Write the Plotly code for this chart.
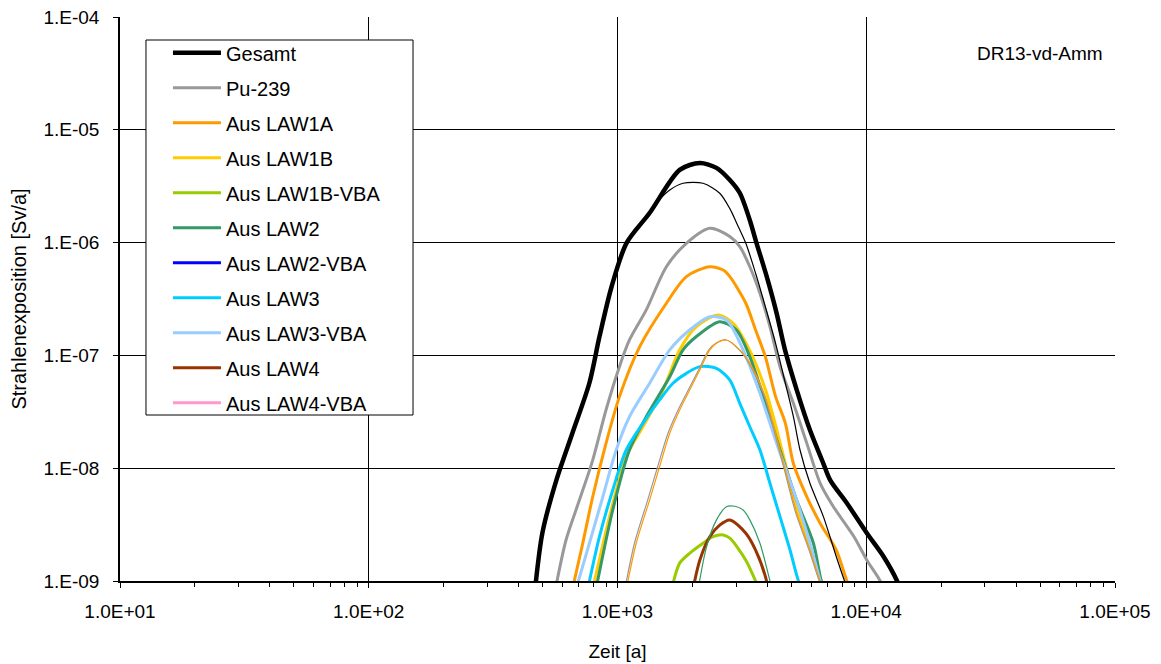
import plotly.graph_objects as go

# ---------------- data ----------------
x_tickvals = [1e1, 1e2, 1e3, 1e4, 1e5]
x_ticktext = ["1.0E+01", "1.0E+02", "1.0E+03", "1.0E+04", "1.0E+05"]
y_tickvals = [1e-9, 1e-8, 1e-7, 1e-6, 1e-5, 1e-4]
y_ticktext = ["1.E-09", "1.E-08", "1.E-07", "1.E-06", "1.E-05", "1.E-04"]
x_minor = [m * d for d in [1e1, 1e2, 1e3, 1e4] for m in range(2, 10)]

t_gesamt = [465, 499, 568, 659, 771, 846, 946, 1087, 1346, 1778, 2142, 2500, 2829, 3102, 3404,
            3624, 3981, 4363, 4713, 5256, 5938, 6725, 7161, 8363, 10060, 11750, 13300, 13800]
v_gesamt = [8e-10, 2.67e-9, 7.85e-9, 2.05e-8, 5.69e-8, 1.46e-7, 4.04e-7, 9.9e-7, 1.83e-6, 4.41e-6,
            5.08e-6, 4.6e-6, 3.59e-6, 2.75e-6, 1.58e-6, 9.86e-7, 4.99e-7, 2.36e-7, 1.12e-7,
            4.93e-8, 2.18e-8, 1.1e-8, 7.85e-9, 4.89e-9, 2.65e-9, 1.64e-9, 1.0e-9, 8e-10]

t_gesamt_thin = [465, 499, 568, 659, 771, 846, 946, 1087, 1227, 1432, 1622, 1834, 2207, 2576, 2829,
                 3030, 3280, 3590, 3930, 4320, 4730, 5095, 5417, 5938, 6725, 7580, 8180, 8500]
v_gesamt_thin = [8e-10, 2.67e-9, 7.85e-9, 2.05e-8, 5.69e-8, 1.46e-7, 4.04e-7, 9.9e-7, 1.38e-6,
                 2.23e-6, 2.92e-6, 3.36e-6, 3.36e-6, 2.74e-6, 2.0e-6, 1.45e-6, 9.86e-7, 5.35e-7,
                 2.7e-7, 1.28e-7, 5.66e-8, 2.86e-8, 1.45e-8, 7.35e-9, 3.72e-9, 1.64e-9, 1.0e-9, 8e-10]

t_pu239 = [560, 621, 703, 795, 899, 1018, 1117, 1305, 1572, 1892, 2349, 2829, 3102, 3404, 3738,
           4100, 4501, 5095, 5770, 6531, 7380, 8930, 10060, 11380, 11800]
v_pu239 = [8e-10, 2.31e-9, 5.22e-9, 1.18e-8, 3.28e-8, 7.95e-8, 1.37e-7, 2.53e-7, 6.11e-7, 9.86e-7,
           1.34e-6, 1.13e-6, 9.2e-7, 6.11e-7, 3.55e-7, 1.8e-7, 7.94e-8, 3.76e-8, 1.66e-8, 7.35e-9,
           4.56e-9, 2.47e-9, 1.53e-9, 1.0e-9, 8e-10]

t_law1a = [655, 725, 795, 899, 1018, 1227, 1572, 1892, 2349, 2660, 2829, 3280, 3590, 3930, 4320,
           4730, 5095, 5770, 6531, 7580, 8363, 8800]
v_law1a = [8e-10, 2.16e-9, 5.58e-9, 1.66e-8, 4.31e-8, 1.19e-7, 2.9e-7, 4.99e-7, 6.11e-7, 5.71e-7,
           4.99e-7, 2.9e-7, 1.68e-7, 9.73e-8, 4.31e-8, 2.5e-8, 1.1e-8, 5.58e-9, 3.24e-9, 1.88e-9,
           1.0e-9, 8e-10]

t_law1b = [790, 929, 1084, 1265, 1524, 1778, 2076, 2535, 2916, 3404, 3930, 4320, 4730, 5256, 5938,
           6600, 7000]
v_law1b = [8e-10, 3.72e-9, 1.27e-8, 2.33e-8, 4.93e-8, 1.12e-7, 1.8e-7, 2.28e-7, 1.92e-7, 1.1e-7,
           5.0e-8, 2.4e-8, 1.1e-8, 4.5e-9, 2.0e-9, 1.0e-9, 8e-10]

t_law1b_vba = [1640, 1778, 1950, 2207, 2421, 2660, 2829, 3280, 3590, 3750]
v_law1b_vba = [8e-10, 1.44e-9, 1.76e-9, 2.16e-9, 2.47e-9, 2.56e-9, 2.4e-9, 1.53e-9, 1.0e-9, 8e-10]

t_law2 = [815, 957, 1117, 1305, 1622, 1834, 2076, 2576, 3006, 3404, 3978, 4501, 5248, 6131, 6600,
          6900]
v_law2 = [8e-10, 4.26e-9, 1.45e-8, 2.86e-8, 6.47e-8, 1.12e-7, 1.47e-7, 1.99e-7, 1.68e-7, 9.73e-8,
          3.51e-8, 1.45e-8, 5.22e-9, 2.16e-9, 1.0e-9, 8e-10]

t_law2_vba = [2200, 2600, 3000, 3400]
v_law2_vba = [2e-10, 4e-10, 3e-10, 1.5e-10]

t_law3 = [755, 846, 957, 1084, 1265, 1476, 1671, 1892, 2142, 2500, 2829, 3102, 3404, 3738, 4100,
          4501, 4940, 5340, 5600]
v_law3 = [8e-10, 2.47e-9, 6.41e-9, 1.45e-8, 2.5e-8, 4.03e-8, 5.66e-8, 6.93e-8, 7.95e-8, 7.68e-8,
          6.05e-8, 3.76e-8, 2.33e-8, 1.45e-8, 7.35e-9, 3.72e-9, 1.88e-9, 1.0e-9, 8e-10]

t_law3_vba = [676, 771, 873, 988, 1117, 1346, 1622, 1950, 2349, 2743, 3199, 3738, 4363, 5248, 6000,
              6531, 6800]
v_law3_vba = [8e-10, 2.16e-9, 5.58e-9, 1.45e-8, 2.86e-8, 5.66e-8, 1.12e-7, 1.68e-7, 2.2e-7, 2.06e-7,
              1.12e-7, 4.61e-8, 1.66e-8, 5.2e-9, 2.0e-9, 1.0e-9, 8e-10]

t_law4 = [2000, 2142, 2349, 2576, 2829, 3280, 3590, 3930, 4050]
v_law4 = [8e-10, 1.53e-9, 2.47e-9, 3.13e-9, 3.48e-9, 2.65e-9, 1.88e-9, 1.1e-9, 8e-10]

t_law4_vba = [2300, 2700, 3100, 3500]
v_law4_vba = [1e-10, 2e-10, 1.8e-10, 1e-10]

# thin unlabelled series
t_orange_thin = [1080, 1189, 1346, 1476, 1622, 1778, 1950, 2142, 2349, 2500, 2743, 3102, 3404, 3930,
                 4320, 4730, 5256, 5938, 6531, 6900]
v_orange_thin = [8e-10, 2.16e-9, 5.22e-9, 1.03e-8, 2.04e-8, 3.28e-8, 4.93e-8, 7.43e-8, 1.12e-7,
                 1.28e-7, 1.37e-7, 1.12e-7, 8.5e-8, 4.31e-8, 2.04e-8, 9.6e-9, 4.0e-9, 1.88e-9,
                 1.0e-9, 8e-10]
t_gray_thin = [1065, 1170, 1322, 1450, 1596, 1752, 1925, 2118, 2330, 2485, 2735, 3085, 3380, 3900,
               4285, 4690, 5210, 5890, 6480, 6850]
v_gray_thin = [8e-10, 2.16e-9, 5.22e-9, 1.03e-8, 2.04e-8, 3.28e-8, 4.93e-8, 7.43e-8, 1.12e-7,
               1.28e-7, 1.37e-7, 1.12e-7, 8.5e-8, 4.31e-8, 2.04e-8, 9.6e-9, 4.0e-9, 1.88e-9,
               1.0e-9, 8e-10]
t_green_thin = [2100, 2280, 2500, 2743, 2965, 3199, 3404, 3738, 4100, 4200]
v_green_thin = [8e-10, 2.01e-9, 3.48e-9, 4.56e-9, 4.6e-9, 4.26e-9, 3.48e-9, 2.16e-9, 1.0e-9, 8e-10]

series_names = ["Gesamt", "Pu-239", "Aus LAW1A", "Aus LAW1B", "Aus LAW1B-VBA", "Aus LAW2",
                "Aus LAW2-VBA", "Aus LAW3", "Aus LAW3-VBA", "Aus LAW4", "Aus LAW4-VBA"]

# ---------------- figure ----------------
FONT = "Liberation Sans, Arial, sans-serif"
fig = go.Figure()

series = [
    (t_gesamt, v_gesamt, "#000000", 4.5),
    (t_pu239, v_pu239, "#999999", 3),
    (t_law1a, v_law1a, "#ff9900", 3),
    (t_law1b, v_law1b, "#ffcc00", 3),
    (t_law1b_vba, v_law1b_vba, "#99cc00", 3),
    (t_law2, v_law2, "#339966", 3),
    (t_law2_vba, v_law2_vba, "#0000ff", 3),
    (t_law3, v_law3, "#00ccff", 3),
    (t_law3_vba, v_law3_vba, "#99ccff", 3),
    (t_law4, v_law4, "#993300", 3),
    (t_law4_vba, v_law4_vba, "#ff99cc", 3),
]
thin = [
    (t_gray_thin, v_gray_thin, "#999999", 1.2),
    (t_orange_thin, v_orange_thin, "#ff9900", 1.2),
    (t_green_thin, v_green_thin, "#339966", 1.2),
    (t_gesamt_thin, v_gesamt_thin, "#000000", 1.2),
]

for i, (name, (t, v, c, w)) in enumerate(zip(series_names, series)):
    fig.add_trace(go.Scatter(x=t, y=v, mode="lines", name=name, legendgroup=f"g{i}",
                             line=dict(color=c, width=w, shape="spline", smoothing=0.8)))
for t, v, c, w in thin:
    fig.add_trace(go.Scatter(x=t, y=v, mode="lines", line=dict(color=c, width=w, shape="spline",
                                                              smoothing=0.8),
                             showlegend=False, hoverinfo="skip"))

fig.update_layout(
    width=1153, height=656,
    margin=dict(l=112, r=46, t=9, b=83),
    paper_bgcolor="white", plot_bgcolor="white",
    font=dict(family=FONT, size=18, color="black"),
    showlegend=True,
    legend=dict(x=0.0482, y=0.971, xanchor="left", yanchor="top", itemwidth=48,
                bgcolor="rgba(0,0,0,0)", borderwidth=0,
                font=dict(family=FONT, size=20), tracegroupgap=6,
                traceorder="grouped"),
    shapes=[dict(type="rect", xref="paper", yref="paper", x0=0.0261, x1=0.2945,
                 y0=0.2943, y1=0.9592, line=dict(color="black", width=1),
                 fillcolor="white", layer="above")],
    annotations=[dict(text="DR13-vd-Amm", xref="paper", yref="paper", x=0.9246, y=0.936,
                      showarrow=False, font=dict(family=FONT, size=19), xanchor="center",
                      yanchor="middle")],
)

fig.update_xaxes(type="log", range=[1, 5], tickmode="array", tickvals=x_tickvals,
                 ticktext=x_ticktext, ticks="outside", ticklen=5, tickcolor="black",
                 tickfont=dict(family=FONT, size=19), ticklabelstandoff=7, automargin=False,
                 ticklabeloverflow="allow",
                 showgrid=True, gridcolor="black", gridwidth=1,
                 showline=True, linecolor="black", linewidth=2, mirror=False,
                 minor=dict(tickmode="array", tickvals=x_minor, ticks="outside", ticklen=4,
                            tickcolor="black", showgrid=False),
                 title=dict(text="Zeit [a]", font=dict(family=FONT, size=19), standoff=24),
                 zeroline=False)
fig.update_yaxes(type="log", range=[-9, -4], tickmode="array", tickvals=y_tickvals,
                 ticktext=y_ticktext, ticks="outside", ticklen=5, tickcolor="black",
                 tickfont=dict(family=FONT, size=19), ticklabelstandoff=10, automargin=False,
                 ticklabeloverflow="allow",
                 showgrid=True, gridcolor="black", gridwidth=1,
                 showline=True, linecolor="black", linewidth=1.5,
                 title=dict(text="Strahlenexposition [Sv/a]", font=dict(family=FONT, size=20),
                            standoff=13),
                 zeroline=False)

fig.write_html("out.html")
